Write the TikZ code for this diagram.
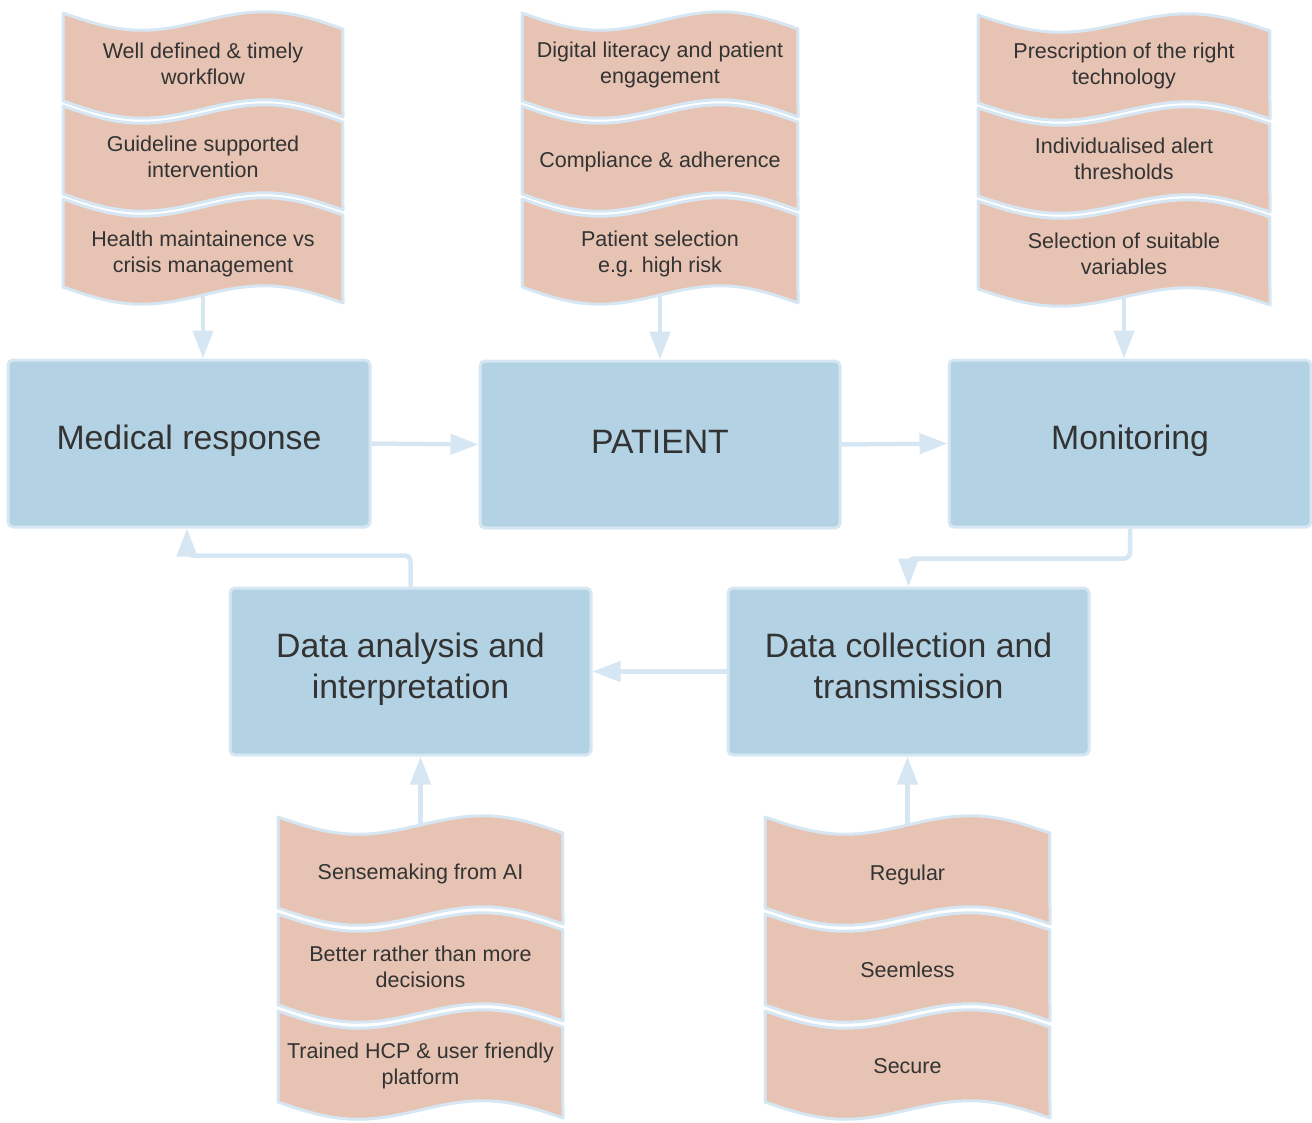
\documentclass[tikz,border=0pt]{standalone}
\usepackage{fontspec}
\setmainfont{Liberation Sans}
\usetikzlibrary{arrows.meta}
\definecolor{docfill}{RGB}{230,195,178}
\definecolor{boxfill}{RGB}{179,211,229}
\definecolor{bord}{RGB}{214,231,243}
\definecolor{txt}{RGB}{51,51,51}
\tikzset{
  docstyle/.style={fill=docfill, draw=bord, line width=3pt, line join=round},
  doctext/.style={text=txt, align=center, font=\fontsize{21.5}{26}\selectfont, inner sep=0pt},
  mainbox/.style={fill=boxfill, draw=bord, line width=3pt, rounded corners=5pt, inner sep=0pt,
    minimum height=167pt},
  maintext/.style={text=txt, align=center, font=\fontsize{33.8}{41}\selectfont, inner sep=0pt},
  arr/.style={draw=bord, line width=4.5pt, -{Triangle[length=28pt,width=20pt]}},
}
% name, x0, y0, w, h, text offset, text
\newcommand{\docshape}[7]{%
  \filldraw[docstyle] plot[domain=0:1,samples=41] ({#2+\x*#4},{#3+16*\x+13*sin(360*\x)})
    -- plot[domain=1:0,samples=41] ({#2+\x*#4},{#3+#5+16*\x+13*sin(360*\x)}) -- cycle;
  \node[doctext] (#1) at ({#2+#4/2},{#3+#5/2+7+#6}) {#7};
}
\begin{document}
\begin{tikzpicture}[x=1pt,y=-1pt]
\useasboundingbox (0,0) rectangle (1312,1122);
% top-left stack
\docshape{tl1}{63}{13}{280}{88}{0}{Well defined \& timely\\workflow}
\docshape{tl2}{63}{106}{280}{88}{0}{Guideline supported\\intervention}
\docshape{tl3}{63}{199}{280}{88}{4}{Health maintainence vs\\crisis management}
% top-middle stack
\docshape{tm1}{522}{13}{276}{88}{1}{Digital literacy and patient\\engagement}
\docshape{tm2}{522}{106}{276}{88}{5}{Compliance \& adherence}
\docshape{tm3}{522}{199}{276}{88}{4}{Patient selection\\e.g. high risk}
% top-right stack
\docshape{tr1}{978}{15}{292}{88}{0}{Prescription of the right\\technology}
\docshape{tr2}{978}{108}{292}{88}{0}{Individualised alert\\thresholds}
\docshape{tr3}{978}{201}{292}{88}{2}{Selection of suitable\\variables}
% bottom-left stack
\docshape{bl1}{278}{817}{285}{91}{4}{Sensemaking from AI}
\docshape{bl2}{278}{914}{285}{91}{0}{Better rather than more\\decisions}
\docshape{bl3}{278}{1011}{285}{91}{2}{Trained HCP \& user friendly\\platform}
% bottom-right stack
\docshape{br1}{765}{817}{285}{91}{5}{Regular}
\docshape{br2}{765}{914}{285}{91}{3}{Seemless}
\docshape{br3}{765}{1011}{285}{91}{3}{Secure}
% main boxes
\node[mainbox, minimum width=362pt, label={[maintext, yshift=3pt]center:Medical response}] (med) at (189,443.5) {};
\node[mainbox, minimum width=360pt, label={[maintext, yshift=3pt]center:PATIENT}] (pat) at (660,444.5) {};
\node[mainbox, minimum width=362pt, label={[maintext, yshift=3pt]center:Monitoring}] (mon) at (1130,443.5) {};
\node[mainbox, minimum width=361pt, label={[maintext, yshift=2pt]center:{Data analysis and\\interpretation}}] (da) at (410.5,671.5) {};
\node[mainbox, minimum width=361pt, label={[maintext, yshift=2pt]center:{Data collection and\\transmission\vphantom{p}}}] (dc) at (908.5,671.5) {};
% anchor coordinates on document stacks
\coordinate (tlb) at (203,296);
\coordinate (tmb) at (660,296);
\coordinate (trb) at (1124,298);
\coordinate (blt) at (420.5,824);
\coordinate (brt) at (907.5,824);
% connectors
\draw[arr] (tlb) -- (tlb |- med.north);
\draw[arr] (tmb) -- (tmb |- pat.north);
\draw[arr] (trb) -- (trb |- mon.north);
\draw[arr] (med.east) -- (pat.west);
\draw[arr] (pat.east) -- (mon.west);
\draw[arr, rounded corners=6pt] (mon.south) -- ++(0,30) -| (dc.north);
\draw[arr] (dc.west) -- (da.east);
\draw[arr, rounded corners=6pt] (da.north) -- ++(0,-31) -| ([xshift=-2pt]med.south);
\draw[arr] (blt) -- (blt |- da.south);
\draw[arr] (brt) -- (brt |- dc.south);
\end{tikzpicture}
\end{document}
